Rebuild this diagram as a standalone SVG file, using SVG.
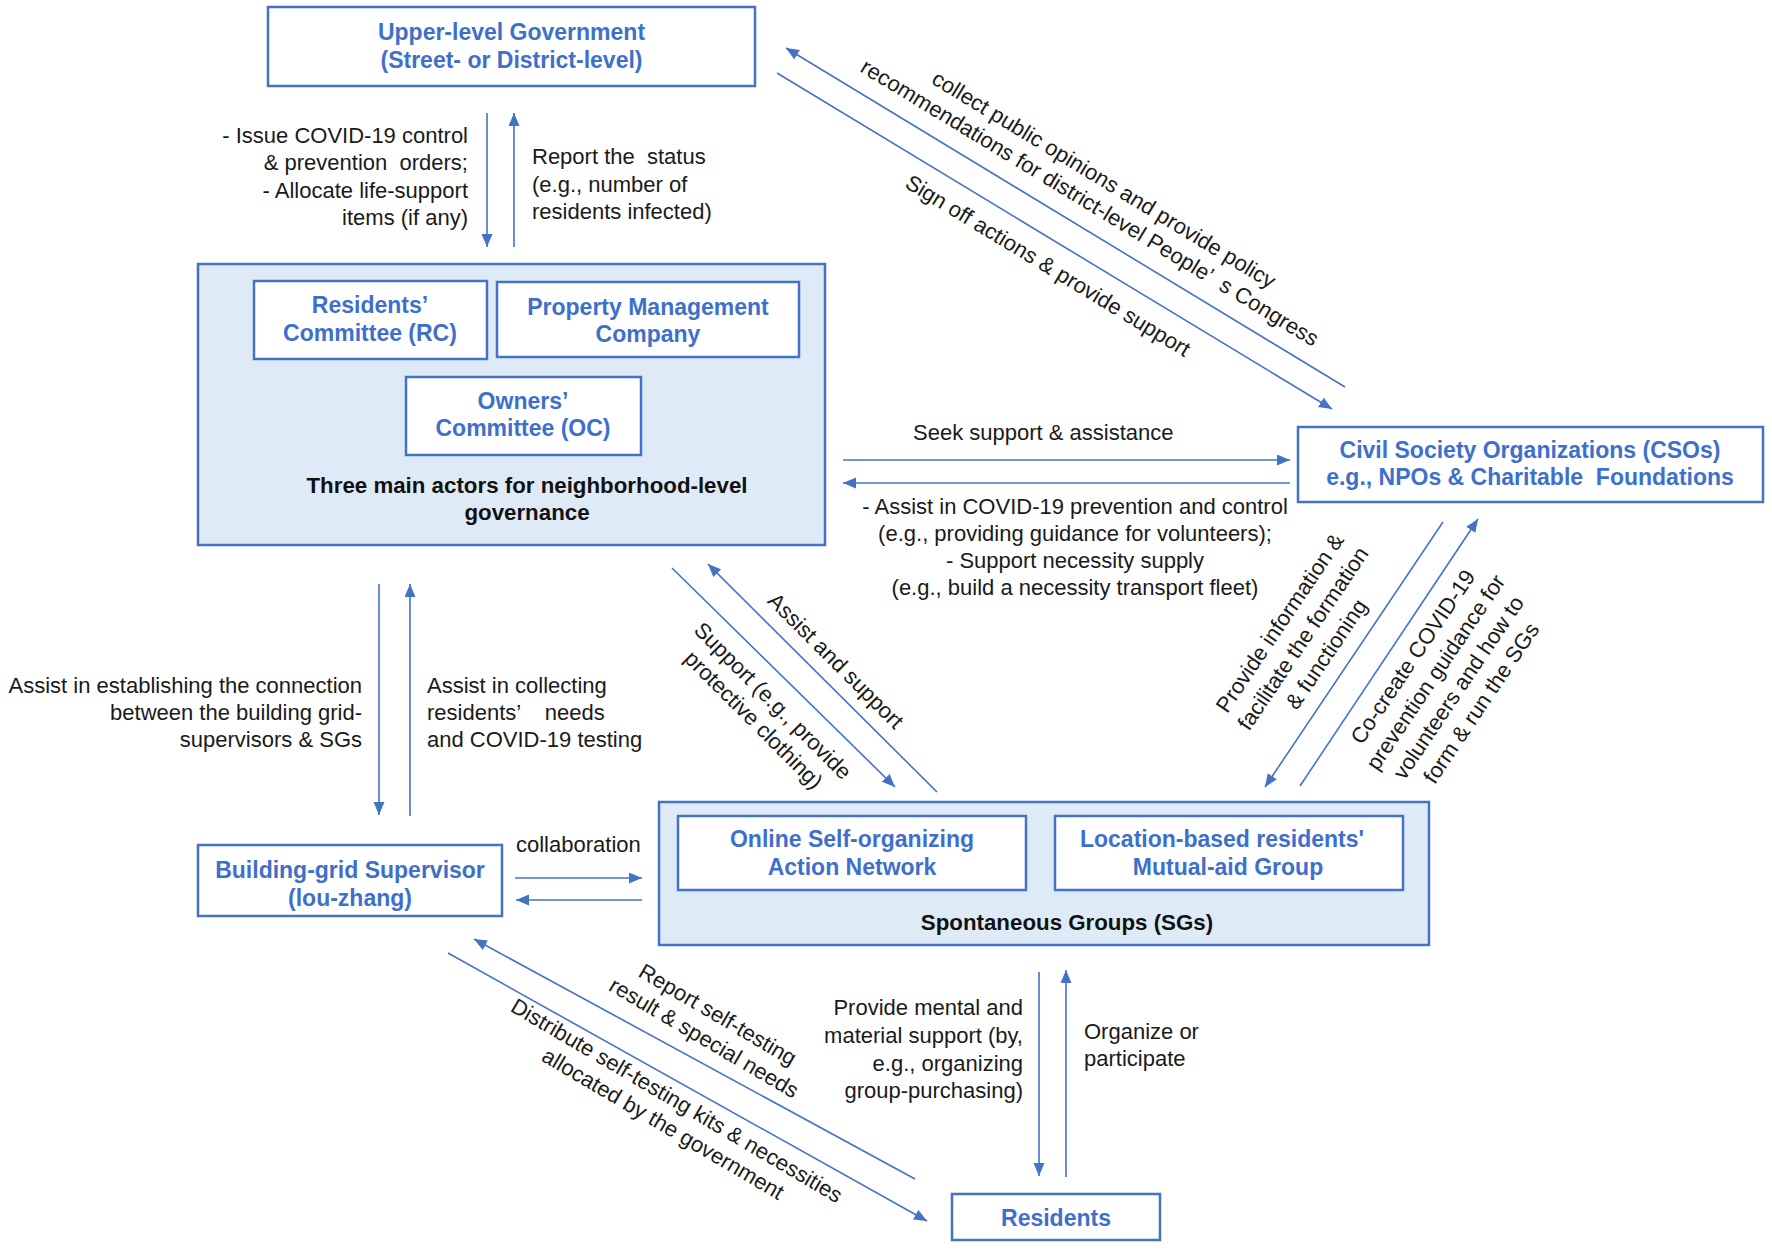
<svg xmlns="http://www.w3.org/2000/svg" width="1772" height="1251" viewBox="0 0 1772 1251">
<style>
.box{fill:#fff;stroke:#4472C4;stroke-width:2.5}
.grp{fill:#DEEBF7;stroke:#4472C4;stroke-width:2.5}
.t{font-family:"Liberation Sans",Arial,sans-serif;font-size:22px;fill:#1a1a1a;white-space:pre}
.tb{font-family:"Liberation Sans",Arial,sans-serif;font-weight:bold;font-size:23px;fill:#3E6FCC;text-anchor:middle;white-space:pre}
.tk{font-family:"Liberation Sans",Arial,sans-serif;font-weight:bold;font-size:22.3px;fill:#111;text-anchor:middle}
.ln{stroke:#4472C4;stroke-width:1.6;fill:none}
.ar{marker-end:url(#ah)}
.m{text-anchor:middle}
.e{text-anchor:end}
</style>
<defs>
<marker id="ah" markerUnits="userSpaceOnUse" markerWidth="14" markerHeight="12" refX="13" refY="5.5" orient="auto">
<path d="M0,0 L13,5.5 L0,11 z" fill="#4472C4"/>
</marker>
</defs>

<g id="node-gov">
<rect class="box" x="268" y="7" width="487" height="79"/>
<text class="tb" x="511.5" y="39.5">Upper-level Government</text>
<text class="tb" x="511.5" y="67.5">(Street- or District-level)</text>
</g>

<g id="node-neighborhood">
<rect class="grp" x="198" y="264" width="627" height="281"/>
<text class="tk" x="527" y="493">Three main actors for neighborhood-level</text>
<text class="tk" x="527" y="520">governance</text>
</g>
<g id="node-rc">
<rect class="box" x="254" y="281" width="233" height="78"/>
<text class="tb" x="370" y="313">Residents’</text>
<text class="tb" x="370" y="341">Committee (RC)</text>
</g>
<g id="node-pmc">
<rect class="box" x="497" y="282" width="302" height="75"/>
<text class="tb" x="648" y="315">Property Management</text>
<text class="tb" x="648" y="342">Company</text>
</g>
<g id="node-oc">
<rect class="box" x="406" y="377" width="235" height="78"/>
<text class="tb" x="523" y="409">Owners’</text>
<text class="tb" x="523" y="436">Committee (OC)</text>
</g>

<g id="node-cso">
<rect class="box" x="1298" y="427" width="465" height="75"/>
<text class="tb" x="1530" y="458">Civil Society Organizations (CSOs)</text>
<text class="tb" x="1530" y="485">e.g., NPOs &amp; Charitable  Foundations</text>
</g>

<g id="node-building">
<rect class="box" x="198" y="845" width="304" height="71"/>
<text class="tb" x="350" y="878">Building-grid Supervisor</text>
<text class="tb" x="350" y="906">(lou-zhang)</text>
</g>

<g id="node-sg">
<rect class="grp" x="659" y="802" width="770" height="143"/>
<text class="tk" x="1067" y="930">Spontaneous Groups (SGs)</text>
</g>
<g id="node-online">
<rect class="box" x="678" y="816" width="348" height="74"/>
<text class="tb" x="852" y="847">Online Self-organizing</text>
<text class="tb" x="852" y="875">Action Network</text>
</g>
<g id="node-location">
<rect class="box" x="1055" y="816" width="348" height="74"/>
<text class="tb" x="1222" y="847">Location-based residents'</text>
<text class="tb" x="1228" y="875">Mutual-aid Group</text>
</g>

<g id="node-residents">
<rect class="box" x="952" y="1194" width="208" height="46"/>
<text class="tb" x="1056" y="1226">Residents</text>
</g>

<g id="connectors">
<line class="ln ar" x1="487" y1="113" x2="487" y2="247"/>
<line class="ln ar" x1="514" y1="247" x2="514" y2="113"/>
<line class="ln ar" x1="1345" y1="387" x2="786" y2="48"/>
<line class="ln ar" x1="777" y1="73" x2="1332" y2="409"/>
<line class="ln ar" x1="843" y1="460" x2="1290" y2="460"/>
<line class="ln ar" x1="1290" y1="483" x2="843" y2="483"/>
<line class="ln ar" x1="1443" y1="522" x2="1265" y2="787"/>
<line class="ln ar" x1="1300" y1="786" x2="1478" y2="519"/>
<line class="ln ar" x1="672" y1="568" x2="895" y2="787"/>
<line class="ln ar" x1="937" y1="792" x2="708" y2="564"/>
<line class="ln ar" x1="379" y1="584" x2="379" y2="815"/>
<line class="ln ar" x1="410" y1="816" x2="410" y2="584"/>
<line class="ln ar" x1="515" y1="878" x2="642" y2="878"/>
<line class="ln ar" x1="642" y1="900" x2="516" y2="900"/>
<line class="ln ar" x1="1039" y1="972" x2="1039" y2="1176"/>
<line class="ln ar" x1="1066" y1="1177" x2="1066" y2="970"/>
<line class="ln ar" x1="915" y1="1179" x2="474" y2="939"/>
<line class="ln ar" x1="448" y1="953" x2="927" y2="1221"/>

<text class="t e" x="468" y="143">- Issue COVID-19 control</text>
<text class="t e" x="468" y="170">&amp; prevention  orders;</text>
<text class="t e" x="468" y="198">- Allocate life-support</text>
<text class="t e" x="468" y="225">items (if any)</text>

<text class="t" x="532" y="164">Report the  status</text>
<text class="t" x="532" y="192">(e.g., number of</text>
<text class="t" x="532" y="219">residents infected)</text>

<text class="t m" transform="translate(1100,186) rotate(31.3)"><tspan x="0" y="0">collect public opinions and provide policy</tspan><tspan x="0" y="27">recommendations for district-level People’  s Congress</tspan></text>
<text class="t m" transform="translate(1044,272) rotate(31.3)">Sign off actions &amp; provide support</text>

<text class="t" x="913" y="440">Seek support &amp; assistance</text>
<text class="t m" x="1075" y="514">- Assist in COVID-19 prevention and control</text>
<text class="t m" x="1075" y="541">(e.g., providing guidance for volunteers);</text>
<text class="t m" x="1075" y="568">- Support necessity supply</text>
<text class="t m" x="1075" y="595">(e.g., build a necessity transport fleet)</text>

<text class="t m" transform="translate(1286,627) rotate(-56)"><tspan x="0" y="0">Provide information &amp;</tspan><tspan x="0" y="28">facilitate the formation</tspan><tspan x="0" y="56">&amp; functioning</tspan></text>
<text class="t m" transform="translate(1419,661) rotate(-56)"><tspan x="0" y="0">Co-create COVID-19</tspan><tspan x="0" y="27.5">prevention guidance for</tspan><tspan x="0" y="55">volunteers and how to</tspan><tspan x="0" y="82.5">form &amp; run the SGs</tspan></text>

<text class="t m" transform="translate(830.5,666) rotate(45)">Assist and support</text>
<text class="t m" transform="translate(767.5,706) rotate(45)"><tspan x="0" y="0">Support (e.g., provide</tspan><tspan x="0" y="27">protective clothing)</tspan></text>

<text class="t e" x="362" y="693">Assist in establishing the connection</text>
<text class="t e" x="362" y="720">between the building grid-</text>
<text class="t e" x="362" y="747">supervisors &amp; SGs</text>

<text class="t" x="427" y="693">Assist in collecting</text>
<text class="t" x="427" y="720">residents’    needs</text>
<text class="t" x="427" y="747">and COVID-19 testing</text>

<text class="t" x="516" y="852">collaboration</text>

<text class="t m" transform="translate(714,1021) rotate(30.5)"><tspan x="0" y="0">Report self-testing</tspan><tspan x="0" y="27">result &amp; special needs</tspan></text>
<text class="t m" transform="translate(673,1107) rotate(30.5)"><tspan x="0" y="0">Distribute self-testing kits &amp; necessities</tspan><tspan x="0" y="27">allocated by the government</tspan></text>

<text class="t e" x="1023" y="1015">Provide mental and</text>
<text class="t e" x="1023" y="1043">material support (by,</text>
<text class="t e" x="1023" y="1071">e.g., organizing</text>
<text class="t e" x="1023" y="1098">group-purchasing)</text>

<text class="t" x="1084" y="1039">Organize or</text>
<text class="t" x="1084" y="1066">participate</text>
</g>
</svg>
